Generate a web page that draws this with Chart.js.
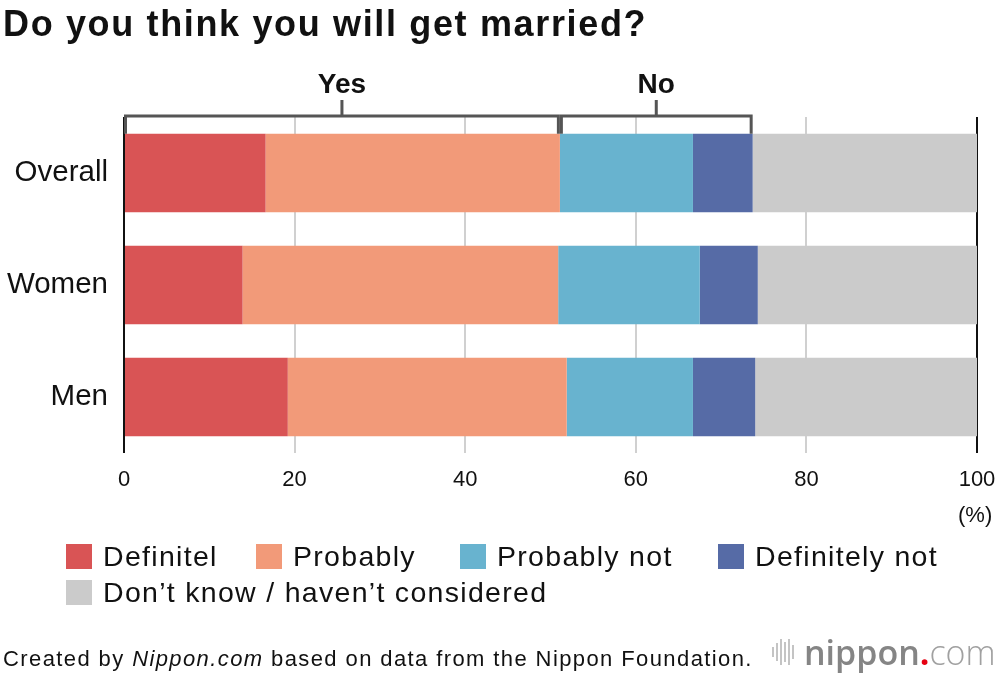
<!DOCTYPE html>
<html>
<head>
<meta charset="utf-8">
<script src="https://cdn.jsdelivr.net/npm/chart.js@4.4.1/dist/chart.umd.min.js"></script>
<style>
  body { margin: 0; background: #fff; font-family: "Liberation Sans", Arial, sans-serif; color: #111; }
  #wrap { position: relative; width: 1000px; height: 676px; overflow: hidden; }
  #chart { position: absolute; left: 0; top: 0; }
  h1 { position: absolute; left: 3px; top: 3px; margin: 0; font-size: 36px; font-weight: bold; letter-spacing: 1.65px; white-space: nowrap; }
  .pct { position: absolute; left: 958px; top: 502px; font-size: 22px; }
  .lg { position: absolute; display: flex; align-items: center; font-size: 28.5px; letter-spacing: 1.3px; white-space: nowrap; }
  .lg i { display: inline-block; width: 26px; height: 25px; margin-right: 11px; }
  .foot { position: absolute; left: 3px; top: 646px; font-size: 22px; letter-spacing: 1.4px; white-space: nowrap; }
  .logo { position: absolute; left: 772px; top: 632px; display: flex; align-items: center; white-space: nowrap; }
  .bars { display: flex; align-items: center; height: 26px; margin-right: 8px; }
  .bars b { display: inline-block; width: 2px; background: #c4c4c4; margin-right: 2px; }
  .logo span { font-family: "Open Sans", sans-serif; font-size: 34px; line-height: 40px; }
</style>
</head>
<body>
<div id="wrap">
  <canvas id="chart" width="1000" height="676"></canvas>
  <h1>Do you think you will get married?</h1>
  <div class="pct">(%)</div>
  <div id="legend"></div>
  <div class="foot">Created by <i>Nippon.com</i> based on data from the Nippon Foundation.</div>
  <div class="logo">
    <div class="bars"><b style="height:10px"></b><b style="height:18px"></b><b style="height:26px"></b><b style="height:20px"></b><b style="height:26px"></b><b style="height:14px"></b></div>
    <span style="font-weight:600;color:#858585">nippon</span><span style="font-weight:700;color:#e60012">.</span><span style="font-weight:300;color:#a0a0a0">com</span>
  </div>
</div>
<script>
const categories = ["Overall", "Women", "Men"]
const seriesNames = ["Definitel", "Probably", "Probably not", "Definitely not", "Don’t know / haven’t considered"]
const definitely = [16.6, 13.9, 19.2]
const probably = [34.5, 37.0, 32.7]
const probablyNot = [15.6, 16.6, 14.8]
const definitelyNot = [7.0, 6.8, 7.3]
const dontKnow = [26.3, 25.7, 26.0]
const xTicks = [0, 20, 40, 60, 80, 100]
const groupLabels = ["Yes", "No"]

const colors = ["#d95455", "#f29a79", "#68b3cf", "#566ba6", "#cbcbcb"]
const series = [definitely, probably, probablyNot, definitelyNot, dontKnow]

// legend laid out like the original: four on the first row, one below
const legendPos = [[66, 540], [256, 540], [460, 540], [718, 540], [66, 576]]
const legend = document.querySelector("#legend")
seriesNames.forEach((name, i) => {
  const el = document.createElement("div")
  el.className = "lg"
  el.style.left = legendPos[i][0] + "px"
  el.style.top = legendPos[i][1] + "px"
  el.innerHTML = `<i style="background:${colors[i]}"></i>${name}`
  legend.appendChild(el)
})

// Yes / No brackets over the first bar
const bracketPlugin = {
  id: "bracket",
  afterDraw(chart) {
    const ctx = chart.ctx
    const x = chart.scales.x
    const bar = chart.getDatasetMeta(0).data[0]
    const barTop = bar.y - bar.height / 2
    const top = chart.chartArea.top - 1
    const yesEnd = definitely[0] + probably[0]
    const noEnd = yesEnd + probablyNot[0] + definitelyNot[0]
    const spans = [[0, yesEnd], [yesEnd, noEnd]]
    ctx.save()
    ctx.strokeStyle = "#555"
    ctx.lineWidth = 3
    spans.forEach((s, i) => {
      const x1 = x.getPixelForValue(s[0]) + 1.5
      const x2 = x.getPixelForValue(s[1]) - 1.5
      const mid = (x1 + x2) / 2
      ctx.beginPath()
      ctx.moveTo(x1, barTop)
      ctx.lineTo(x1, top)
      ctx.lineTo(x2, top)
      ctx.lineTo(x2, barTop)
      ctx.moveTo(mid, top)
      ctx.lineTo(mid, top - 16)
      ctx.stroke()
      ctx.fillStyle = "#111"
      ctx.font = "bold 28px 'Liberation Sans', Arial, sans-serif"
      ctx.textAlign = "center"
      ctx.textBaseline = "middle"
      ctx.fillText(groupLabels[i], mid, top - 31)
    })
    ctx.restore()
  }
}

new Chart(document.querySelector("#chart"), {
  type: "bar",
  data: {
    labels: categories,
    datasets: series.map((d, i) => ({
      label: seriesNames[i],
      data: d,
      backgroundColor: colors[i],
      borderWidth: 0,
      categoryPercentage: 1,
      barPercentage: 0.7
    }))
  },
  options: {
    indexAxis: "y",
    responsive: false,
    animation: false,
    layout: { padding: { top: 117, right: 23, left: 0, bottom: 0 } },
    plugins: { legend: { display: false }, tooltip: { enabled: false } },
    scales: {
      x: {
        stacked: true,
        min: 0,
        max: 100,
        afterBuildTicks: (s) => { s.ticks = xTicks.map((v) => ({ value: v })) },
        afterFit: (s) => { s.height = 223; s.paddingLeft = 0; s.paddingRight = 0 },
        border: { display: false },
        grid: {
          drawTicks: false,
          lineWidth: 2,
          color: (c) => (c.tick && (c.tick.value === 0 || c.tick.value === 100)) ? "#111" : "#d0d0d0"
        },
        ticks: {
          padding: 14,
          color: "#111",
          font: { size: 22, family: "'Liberation Sans', Arial, sans-serif" },
          maxRotation: 0
        }
      },
      y: {
        stacked: true,
        afterFit: (s) => { s.width = 124 },
        border: { display: false },
        grid: { display: false, drawTicks: false },
        ticks: {
          padding: 16,
          color: "#111",
          font: { size: 29.5, family: "'Liberation Sans', Arial, sans-serif" }
        }
      }
    }
  },
  plugins: [bracketPlugin]
})
</script>
</body>
</html>
